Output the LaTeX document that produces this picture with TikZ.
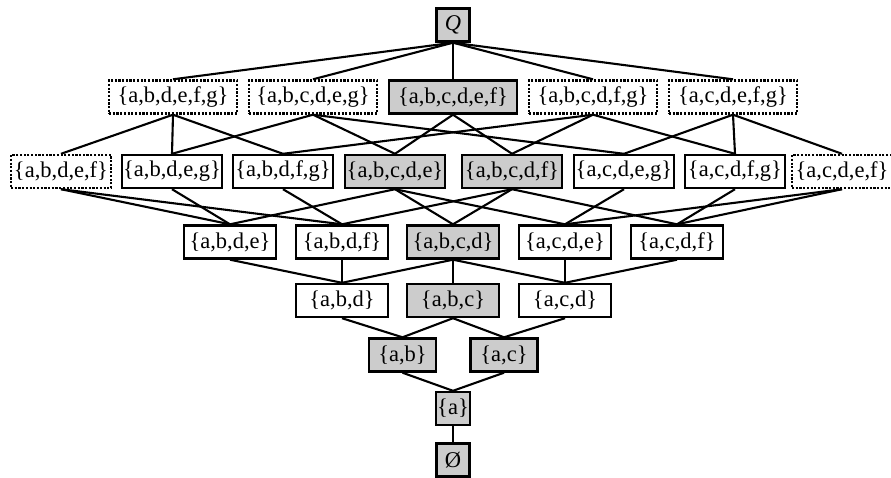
\documentclass[tikz,border=0pt]{standalone}
\usepackage{fontspec}
\setmainfont{Liberation Serif}
\tikzset{
  setbox/.style={draw=black, line width=2.4pt, rectangle, inner xsep=1pt, inner ysep=0pt,
    font=\fontsize{22.5}{26}\selectfont, minimum height=33pt, anchor=center},
  plainbox/.style={setbox, fill=white},
  graybox/.style={setbox, fill=black!20},
  dotbox/.style={setbox, fill=white, dash pattern=on 2.2pt off 1.5pt},
  rowA/.style={minimum width=128pt},
  rowB/.style={minimum width=100pt},
  rowC/.style={minimum width=92pt},
  rowE/.style={minimum width=67pt},
  rowF/.style={minimum width=33pt},
  edge/.style={line width=2.1pt, black}
}
\begin{document}
\begin{tikzpicture}[x=1pt, y=-1pt]
\useasboundingbox (0,0) rectangle (891,477);
% row 0
\node[graybox, rowF] (Q) at (453,25) {\textit{Q}};
% row 1
\node[dotbox, rowA] (A1) at (173,97) {\{a,b,d,e,f,g\}};
\node[dotbox, rowA] (A2) at (313,97) {\{a,b,c,d,e,g\}};
\node[graybox, rowA] (A3) at (453,97) {\{a,b,c,d,e,f\}};
\node[dotbox, rowA] (A4) at (593,97) {\{a,b,c,d,f,g\}};
\node[dotbox, rowA] (A5) at (733,97) {\{a,c,d,e,f,g\}};
% row 2
\node[dotbox, rowB] (B1) at (61,171.5) {\{a,b,d,e,f\}};
\node[plainbox, rowB] (B2) at (172,171.5) {\{a,b,d,e,g\}};
\node[plainbox, rowB] (B3) at (283,171.5) {\{a,b,d,f,g\}};
\node[graybox, rowB] (B4) at (395,171.5) {\{a,b,c,d,e\}};
\node[graybox, rowB] (B5) at (512,171.5) {\{a,b,c,d,f\}};
\node[plainbox, rowB] (B6) at (624,171.5) {\{a,c,d,e,g\}};
\node[plainbox, rowB] (B7) at (735,171.5) {\{a,c,d,f,g\}};
\node[dotbox, rowB] (B8) at (842,171.5) {\{a,c,d,e,f\}};
% row 3
\node[plainbox, rowC] (C1) at (230,242) {\{a,b,d,e\}};
\node[plainbox, rowC] (C2) at (342,242) {\{a,b,d,f\}};
\node[graybox, rowC] (C3) at (453,242) {\{a,b,c,d\}};
\node[plainbox, rowC] (C4) at (565,242) {\{a,c,d,e\}};
\node[plainbox, rowC] (C5) at (677,242) {\{a,c,d,f\}};
% row 4
\node[plainbox, rowC] (D1) at (342,300.5) {\{a,b,d\}};
\node[graybox, rowC] (D2) at (453,300.5) {\{a,b,c\}};
\node[plainbox, rowC] (D3) at (565,300.5) {\{a,c,d\}};
% row 5
\node[graybox, rowE] (E1) at (402.5,355) {\{a,b\}};
\node[graybox, rowE] (E2) at (504,355) {\{a,c\}};
% row 6, 7
\node[graybox, rowF] (F) at (453,408.5) {\{a\}};
\node[graybox, rowF] (G) at (453,460) {Ø};
% edges
\foreach \t in {A1,A2,A3,A4,A5} \draw[edge] (Q.south) -- (\t.north);
\foreach \s/\t in {A1/B1,A1/B2,A1/B3,A2/B2,A2/B4,A2/B6,A3/B4,A3/B5,A4/B3,A4/B5,A4/B7,A5/B6,A5/B7,A5/B8}
  \draw[edge] (\s.south) -- (\t.north);
\foreach \s/\t in {B1/C1,B1/C2,B2/C1,B3/C2,B4/C1,B4/C3,B4/C4,B5/C2,B5/C3,B5/C5,B6/C4,B7/C5,B8/C4,B8/C5}
  \draw[edge] (\s.south) -- (\t.north);
\foreach \s/\t in {C1/D1,C2/D1,C3/D1,C3/D2,C3/D3,C4/D3,C5/D3}
  \draw[edge] (\s.south) -- (\t.north);
\foreach \s/\t in {D1/E1,D2/E1,D2/E2,D3/E2,E1/F,E2/F,F/G}
  \draw[edge] (\s.south) -- (\t.north);
\end{tikzpicture}
\end{document}
